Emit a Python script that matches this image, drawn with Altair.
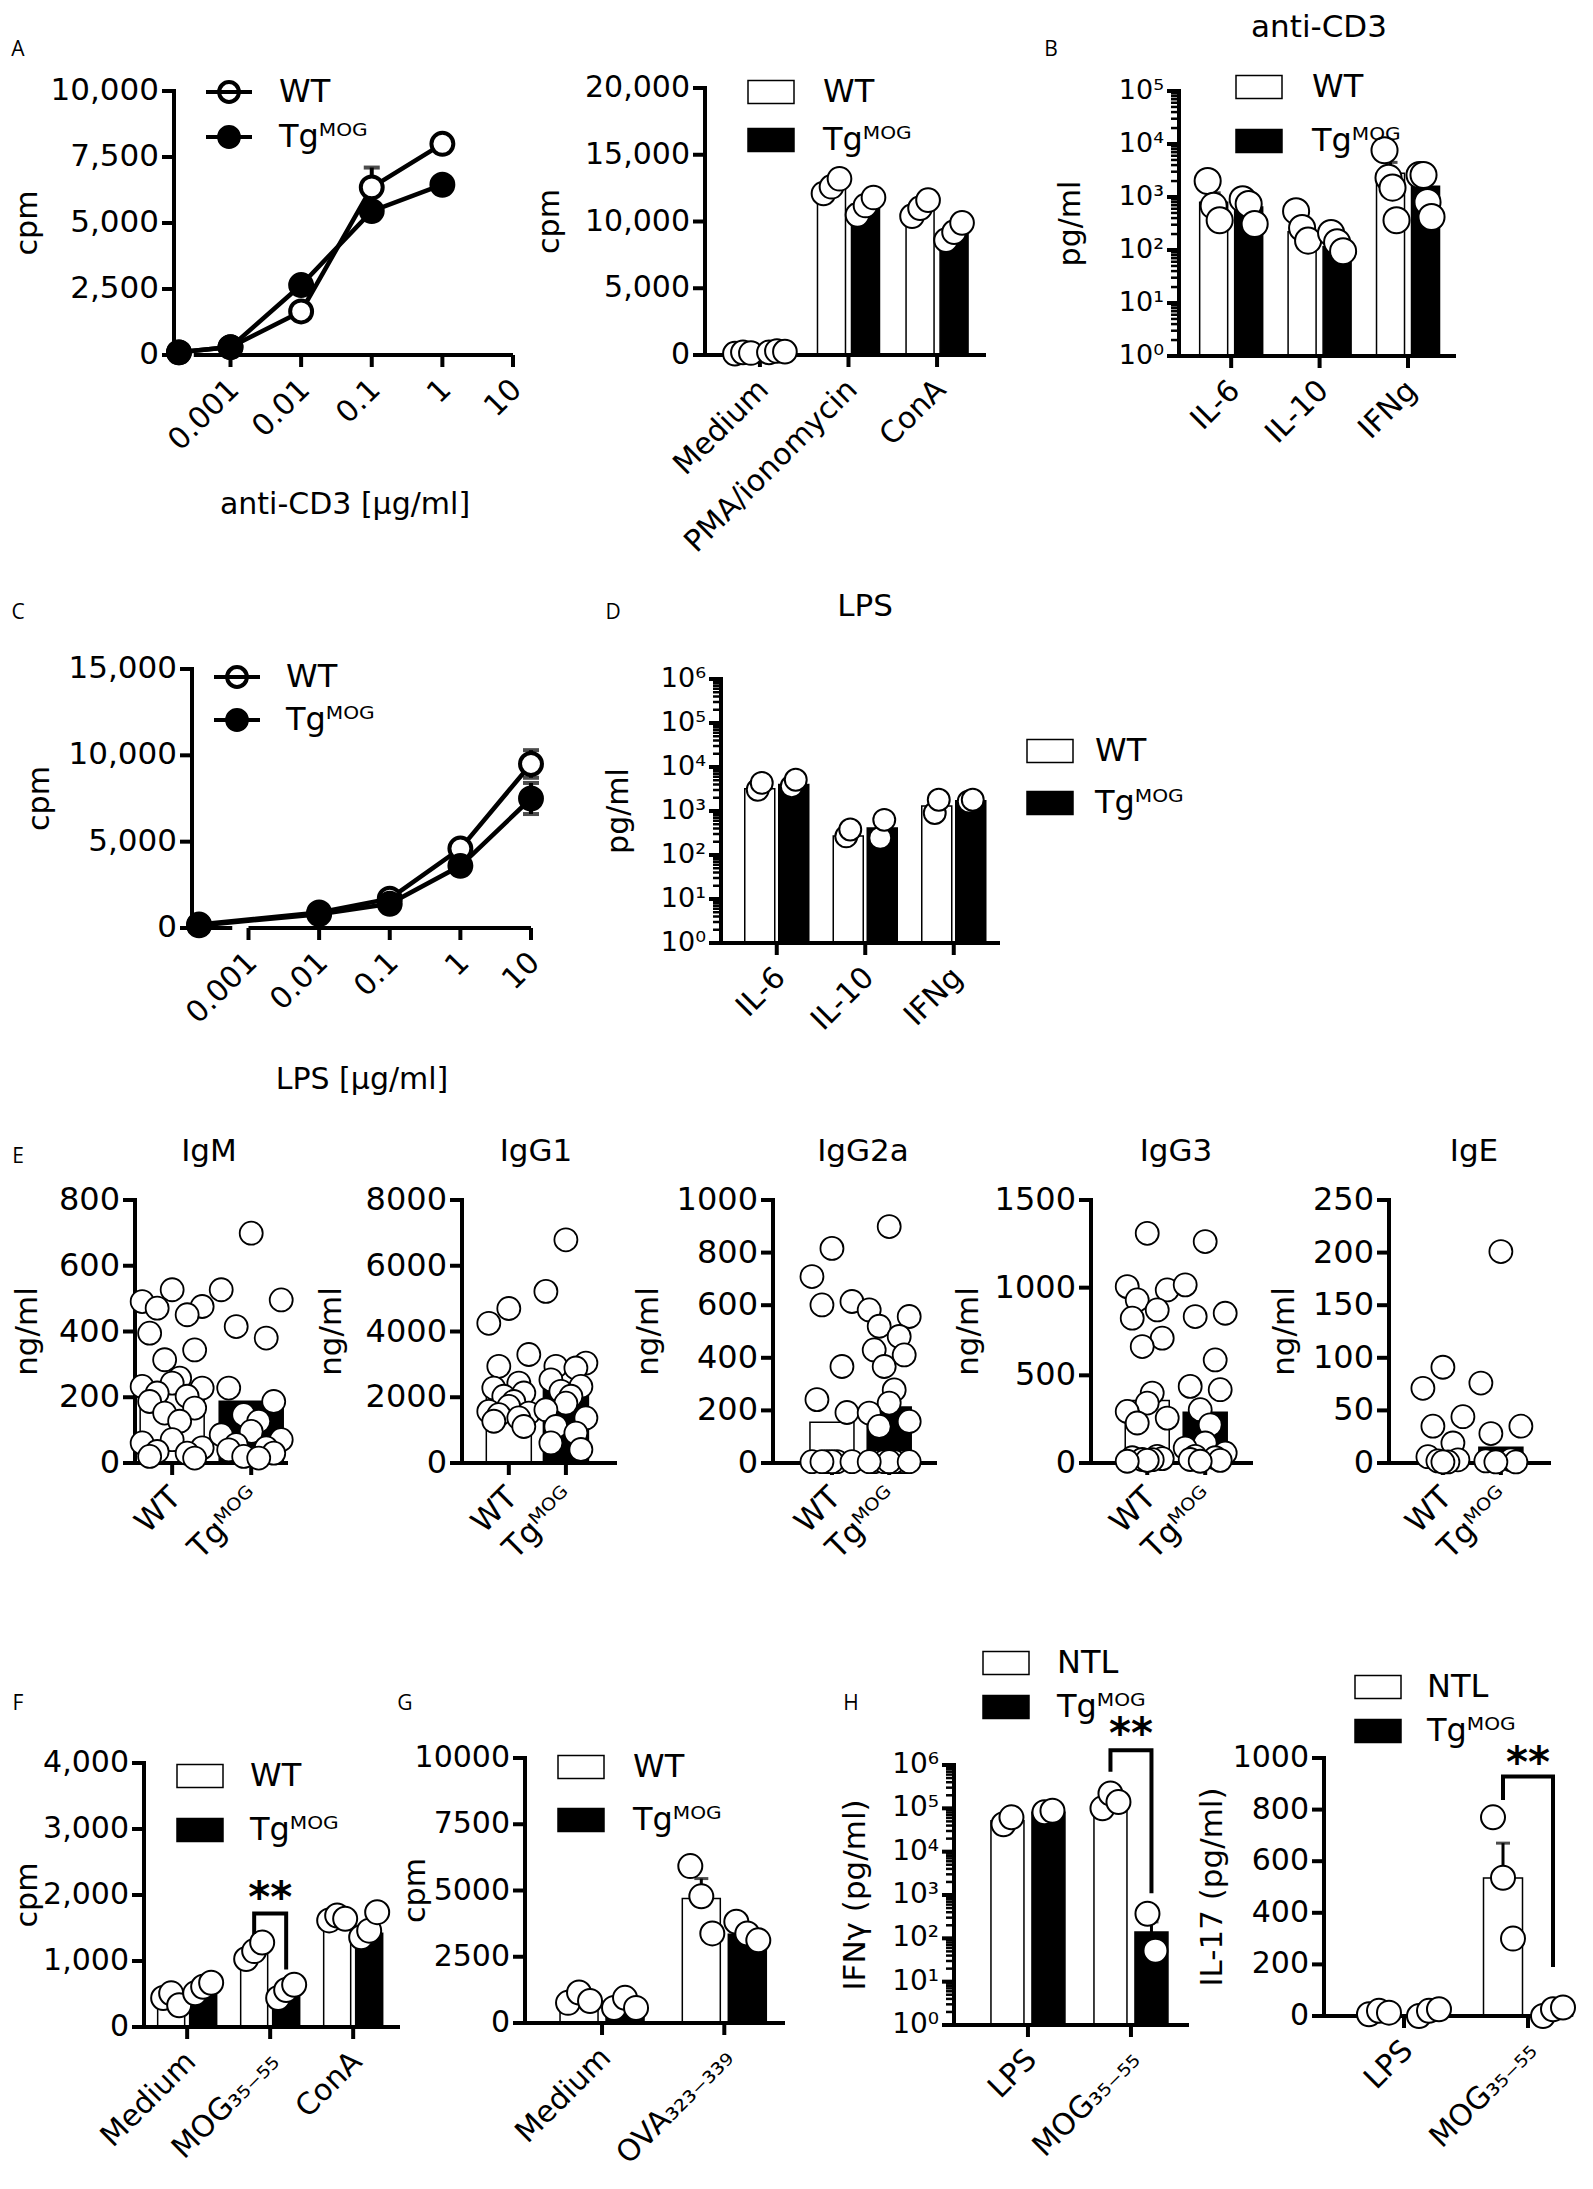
import math
import altair as alt
import pandas as pd

FONT = "DejaVu Sans"
LFONT = "Open Sans"
WT, NTL = "WT", "NTL"
TG = "Tg\u1d39\u1d3c\u1d33"
MOG = "MOG\u2083\u2085\u208b\u2085\u2085"
OVA = "OVA\u2083\u2082\u2083\u208b\u2083\u2083\u2089"

# ---------------- data ----------------
# A (left): anti-CD3 dose response
a1_doses = [0, 0.001, 0.01, 0.1, 1]
a1_wt = [100, 300, 1650, 6350, 8000]
a1_wt_top = [None, None, None, 7100, None]
a1_wt_bot = [None, None, None, None, None]
a1_tg = [100, 300, 2650, 5450, 6450]
a1_tg_top = [None, None, None, None, None]
a1_tg_bot = [None, None, None, None, None]
dose_ticks = [-3, -2, -1, 0, 1]
dose_labels = ["0.001", "0.01", "0.1", "1", "10"]

# A (right)
a2_cats = ["Medium", "PMA/ionomycin", "ConA"]
a2_wt = [150, 12500, 11000]
a2_tg = [250, 11300, 9100]
a2_wt_pts = [[100, 200, 150], [12100, 12600, 13200], [10400, 11000, 11600]]
a2_tg_pts = [[200, 300, 250], [10500, 11200, 11800], [8600, 9200, 9900]]

# B: anti-CD3 cytokines
b_cats = ["IL-6", "IL-10", "IFNg"]
b_wt = [800, 220, 2800]
b_tg = [650, 115, 1600]
b_wt_top = [1200, None, 4500]
b_tg_top = [None, None, 2000]
b_wt_pts = [[2000, 680, 365], [540, 260, 150], [7600, 2300, 1500, 365]]
b_tg_pts = [[910, 740, 310], [210, 140, 95], [2600, 2600, 800, 420]]

# C: LPS dose response
c_doses = [0, 0.01, 0.1, 1, 10]
c_wt = [200, 900, 1700, 4600, 9500]
c_wt_top = [None, None, None, None, 10300]
c_wt_bot = [None, None, None, None, 8700]
c_tg = [150, 800, 1400, 3600, 7500]
c_tg_top = [None, None, None, None, 8400]
c_tg_bot = [None, None, None, None, 6600]

# D: LPS cytokines
d_cats = ["IL-6", "IL-10", "IFNg"]
d_wt = [3200, 270, 1300]
d_tg = [4000, 410, 1700]
d_wt_pts = [[3050, 4350], [265, 380], [900, 1800]]
d_tg_pts = [[3650, 5150], [245, 630], [1650, 1800]]

# E: immunoglobulins (ng/ml)
igm_wt = [527, 491, 476, 471, 451, 395, 344, 314, 258, 243, 233, 228, 213, 203, 187, 167, 152, 127, 71, 61, 46, 35, 30, 20, 15]
igm_tg = [699, 527, 496, 415, 380, 228, 187, 147, 127, 96, 86, 71, 56, 46, 40, 30, 20, 15]
igm_bar = [228, 188]
igg1_wt = [4700, 4250, 3300, 2940, 2430, 2280, 2130, 2030, 1870, 1720, 1570, 1520, 1470, 1370, 1270, 1110]
igg1_tg = [6790, 5220, 3040, 2940, 2890, 2530, 2330, 2180, 2030, 1820, 1620, 1370, 1110, 910, 610, 410]
igg1_bar = [2150, 2250]
igg2a_wt = [816, 709, 614, 601, 367, 241, 192, 5, 5, 5, 5, 5, 5]
igg2a_tg = [899, 582, 557, 520, 481, 430, 411, 367, 278, 228, 190, 158, 139, 5, 5, 5, 5, 5, 5, 5, 5]
igg2a_bar = [155, 213]
igg3_wt = [1310, 1006, 987, 930, 873, 826, 712, 664, 399, 342, 294, 256, 228, 38, 30, 25, 20, 19, 15, 10]
igg3_tg = [1263, 1016, 854, 835, 588, 437, 418, 304, 218, 114, 85, 57, 38, 30, 20, 15, 10]
igg3_bar = [357, 289]
ige_wt = [91, 71, 44, 35, 19, 6, 3, 2, 1, 1]
ige_tg = [201, 76, 35, 28, 3, 2, 1, 1]
ige_bar = [11, 15]

# F: recall proliferation
f_cats = ["Medium", MOG, "ConA"]
f_wt = [400, 1150, 1650]
f_tg = [580, 580, 1420]
f_wt_top = [None, None, None]
f_tg_top = [None, None, 1580]
f_wt_pts = [[440, 510, 330], [1030, 1150, 1280], [1615, 1690, 1640]]
f_tg_pts = [[510, 610, 670], [440, 560, 640], [1360, 1460, 1740]]
f_bracket = [1410, 1718, 1718, 872]
f_star = 2136

# G: OVA recall
g_cats = ["Medium", OVA]
g_wt = [900, 4700]
g_tg = [650, 3350]
g_wt_top = [1000, 5450]
g_tg_top = [780, 3630]
g_wt_pts = [[760, 1150, 830], [5920, 4780, 3380]]
g_tg_pts = [[570, 950, 570], [3820, 3380, 3120]]

# H: IFNγ and IL-17
h_cats = ["LPS", MOG]
h1_wt = [52000, 140000]
h1_tg = [81000, 140]
h1_wt_top = [None, None]
h1_tg_top = [None, 240]
h1_wt_pts = [[43000, 62000], [100000, 220000, 140000]]
h1_tg_pts = [[81000, 88000], [370, 52]]
h1_bracket = [700000, 2200000, 2200000, 1100]
h1_star = 10000000
h2_wt = [15, 535]
h2_tg = [15, 20]
h2_wt_top = [None, 670]
h2_tg_top = [None, None]
h2_wt_pts = [[7, 20, 13], [770, 536, 300]]
h2_tg_pts = [[0, 20, 26], [0, 26, 33]]
h2_bracket = [837, 928, 928, 190]
h2_star = 1027

# ---------------- layout: plot areas in page pixels ----------------
M = 8  # page margin: the single view starts here
GEO = {
    'A1': (174, 91, 339, 264), 'A2': (705, 88, 279, 267), 'B': (1179, 91, 275, 265),
    'C': (192, 669, 339, 259), 'D': (721, 679, 277, 264),
    'IgM': (135, 1200, 151, 263), 'IgG1': (462, 1200, 153, 263), 'IgG2a': (773, 1200, 162, 263),
    'IgG3': (1091, 1200, 160, 263), 'IgE': (1389, 1200, 160, 263),
    'F': (144, 1763, 254, 264), 'G': (525, 1758, 258, 265), 'H1': (954, 1765, 233, 260),
    'H2': (1324, 1758, 236, 258),
}
VIEW_W, VIEW_H = 1560, 2165

RECT = "M-1,-0.5H1V0.5H-1Z"
LINEDOT = "M-1,0H1M0.43,0A0.43,0.43,0,1,1,-0.43,0A0.43,0.43,0,1,1,0.43,0"
SUP = ['\u2070', '\u00b9', '\u00b2', '\u00b3', '\u2074', '\u2075', '\u2076']


def fmt_tick(v, kind):
    if kind == 'log':
        return '10' + SUP[int(round(math.log10(v)))]
    if kind == ',d':
        return f"{int(v):,}"
    return str(int(v))


class Panel:
    def __init__(self, key, xdom, ydom, ylog=False):
        self.key = key
        self.L, self.T, self.W, self.H = GEO[key]
        self.xdom, self.ydom, self.ylog = xdom, ydom, ylog
        xr = [self.L - M, self.L - M + self.W]
        yr = [self.T - M + self.H, self.T - M]
        self.xs = alt.Scale(domain=xdom, range=xr, nice=False, zero=False, padding=0)
        if ylog:
            self.ys = alt.Scale(type='log', domain=ydom, range=yr, nice=False, padding=0)
        else:
            self.ys = alt.Scale(domain=ydom, range=yr, nice=False, zero=False, padding=0)

    def xv(self, ax):
        x0, x1 = self.xdom
        return x0 + (ax - self.L) / self.W * (x1 - x0)

    def xpix(self, v):
        x0, x1 = self.xdom
        return self.L + (v - x0) / (x1 - x0) * self.W

    def yv(self, ay):
        f = (ay - self.T) / self.H
        if self.ylog:
            l0, l1 = math.log10(self.ydom[0]), math.log10(self.ydom[1])
            return 10 ** (l1 - f * (l1 - l0))
        y0, y1 = self.ydom
        return y1 - f * (y1 - y0)

    def X(self, f):
        return alt.X(f + ':Q', scale=self.xs, axis=None)

    def Y(self, f, **kw):
        return alt.Y(f + ':Q', scale=self.ys, axis=None, **kw)

    def text(self, txt, ax, ay, size, font=FONT, baseline='middle', weight='normal', dy=0, angle=0):
        df = pd.DataFrame({'x': [self.xv(ax)], 'y': [self.yv(ay)], 't': [txt]})
        return alt.Chart(df).mark_text(font=font, fontSize=size, baseline=baseline, align='center',
                                       fontWeight=weight, color='black', dy=dy, angle=angle).encode(
            x=self.X('x'), y=self.Y('y'), text='t:N')

    def legend(self, lx, ly, rowpad, shape=RECT, sw=1.5, fs=32, offset=26):
        return alt.Legend(orient='none', legendX=self.L + lx - M, legendY=self.T + ly - 7 - M,
                          direction='vertical', title=None, symbolType=shape, symbolSize=2116,
                          symbolStrokeColor='black', symbolStrokeWidth=sw, labelFont=FONT, labelFontSize=fs,
                          labelColor='black', labelOffset=offset, rowPadding=rowpad, padding=0, labelLimit=400)

    def minor(self):
        lo = int(round(math.log10(self.ydom[0])))
        hi = int(round(math.log10(self.ydom[1])))
        vals = [m * 10 ** k for k in range(lo, hi) for m in range(2, 10)]
        df = pd.DataFrame({'v': vals, 'xa': [self.xv(self.L - 8)] * len(vals), 'xb': [self.xdom[0]] * len(vals)})
        return alt.Chart(df).mark_rule(color='black', strokeWidth=2.5).encode(
            x=self.X('xa'), x2='xb:Q', y=self.Y('v'))

    def axes(self, yticks, ykind, ytitle, ytitle_x, xticks, xlabels, ylab=30, xlab=30, ytit=30,
             xsegs=None, xtitle=None, xtitle_c=None, xlab_dx=4, xlab_dy=30):
        x0, x1 = self.xdom
        y0, y1 = self.ydom
        out = []
        ydf = pd.DataFrame({'x': [x0], 'a': [y0], 'b': [y1]})
        out.append(alt.Chart(ydf).mark_rule(color='black', strokeWidth=4, strokeCap='square').encode(
            x=self.X('x'), y=self.Y('a'), y2='b:Q'))
        segs = xsegs if xsegs else [(x0, x1)]
        xdf = pd.DataFrame({'y': [y0] * len(segs), 'a': [s[0] for s in segs], 'b': [s[1] for s in segs]})
        out.append(alt.Chart(xdf).mark_rule(color='black', strokeWidth=4,
                                            strokeCap='butt' if xsegs else 'square').encode(
            y=self.Y('y'), x=self.X('a'), x2='b:Q'))
        n = len(yticks)
        ytdf = pd.DataFrame({'v': yticks, 'a': [self.xv(self.L - 12)] * n, 'b': [x0] * n,
                             'lx': [self.xv(self.L - 15)] * n, 'lab': [fmt_tick(v, ykind) for v in yticks]})
        out.append(alt.Chart(ytdf).mark_rule(color='black', strokeWidth=4).encode(
            x=self.X('a'), x2='b:Q', y=self.Y('v')))
        out.append(alt.Chart(ytdf).mark_text(font=FONT, fontSize=ylab, align='right', baseline='middle',
                                             color='black').encode(x=self.X('lx'), y=self.Y('v'), text='lab:N'))
        m = len(xticks)
        xtdf = pd.DataFrame({'p': xticks, 'a': [y0] * m, 'b': [self.yv(self.T + self.H + 12)] * m,
                             'lp': [self.xv(self.xpix(t) + xlab_dx) for t in xticks],
                             'ly': [self.yv(self.T + self.H + xlab_dy)] * m, 'lab': xlabels})
        out.append(alt.Chart(xtdf).mark_rule(color='black', strokeWidth=4).encode(
            x=self.X('p'), y=self.Y('a'), y2='b:Q'))
        out.append(alt.Chart(xtdf).mark_text(font=FONT, fontSize=xlab, align='right', baseline='middle',
                                             angle=315, color='black').encode(
            x=self.X('lp'), y=self.Y('ly'), text='lab:N'))
        out.append(self.text(ytitle, ytitle_x, self.T + self.H / 2, ytit, angle=270))
        if xtitle:
            out.append(self.text(xtitle, xtitle_c[0], xtitle_c[1], 30))
        return out


def jit(n, k):
    pats = {1: [0], 2: [-0.5, 0.5], 3: [-1, 0, 1], 4: [-1, -1 / 3, 1 / 3, 1]}
    if n in pats:
        return pats[n][k]
    cyc = [0, -1, 1, -0.5, 0.5, -0.75, 0.75, -0.25, 0.25]
    return cyc[k % len(cyc)]


def bar_panel(key, cats, glabels, means, tops, pts, xdom, off_px, barw, psize, jit_px,
              ydom, yspec, ylog=False, leg=None, xlab=30, bracket=None, texts=()):
    p = Panel(key, xdom, ydom, ylog)
    u = p.W / (xdom[1] - xdom[0])
    off = off_px / u
    signs = [-1, 1]
    brows, prows, erows = [], [], []
    for gi, gl in enumerate(glabels):
        for ci in range(len(cats)):
            pos = ci + signs[gi] * off
            brows.append(dict(pos=pos, val=means[gi][ci], grp=gl, base=ydom[0]))
            if tops[gi][ci] is not None:
                erows.append(dict(pos=pos, lo=means[gi][ci], hi=tops[gi][ci]))
            vals = pts[gi][ci]
            for k, v in enumerate(vals):
                prows.append(dict(pos=pos + jit(len(vals), k) * jit_px / u, val=v))
    yt, kind, ytitle, ytx = yspec[:4]
    ylab = yspec[4] if len(yspec) > 4 else 30
    ytit = yspec[5] if len(yspec) > 5 else 30
    legend = p.legend(*leg[:3], **(leg[3] if len(leg) > 3 else {})) if leg else None
    enc = dict(x=p.X('pos'), y=p.Y('val', stack=None),
               fill=alt.Fill('grp:N', scale=alt.Scale(domain=glabels, range=['white', 'black']), legend=legend))
    if ylog:
        enc['y2'] = alt.Y2('base:Q')
    layers = [alt.Chart(pd.DataFrame(brows)).mark_bar(size=barw, stroke='black', strokeWidth=1.5).encode(**enc)]
    layers += p.axes(yt, kind, ytitle, ytx, list(range(len(cats))), cats, ylab=ylab, xlab=xlab, ytit=ytit)
    if ylog:
        layers.append(p.minor())
    if erows:
        edf = pd.DataFrame(erows)
        layers.append(alt.Chart(edf).mark_rule(color='black', strokeWidth=3).encode(
            x=p.X('pos'), y=p.Y('lo'), y2='hi:Q'))
        layers.append(alt.Chart(edf).mark_tick(orient='horizontal', size=14, thickness=3, color='black').encode(
            x=p.X('pos'), y=p.Y('hi')))
    layers.append(alt.Chart(pd.DataFrame(prows)).mark_point(
        shape='circle', filled=True, fill='white', stroke='black', strokeWidth=2, size=psize, opacity=1
    ).encode(x=p.X('pos'), y=p.Y('val')))
    if bracket is not None:
        ci, yv, sy = bracket
        bdf = pd.DataFrame({'pos': [ci - off, ci - off, ci + off, ci + off], 'val': yv, 'o': [0, 1, 2, 3]})
        layers.append(alt.Chart(bdf).mark_line(color='black', strokeWidth=4, strokeCap='butt').encode(
            x=p.X('pos'), y=p.Y('val'), order='o:Q'))
        sdf = pd.DataFrame({'pos': [ci], 'val': [sy], 't': ['**']})
        layers.append(alt.Chart(sdf).mark_text(font=FONT, fontSize=42, fontWeight='bold', dy=13, color='black').encode(
            x=p.X('pos'), y=p.Y('val'), text='t:N'))
    for t in texts:
        layers.append(p.text(*t[:4], **(t[4] if len(t) > 4 else {})))
    return layers


def line_panel(key, doses, zero_pos, series, seg, ydom, yvals, ytitle_x, xtitle, xtitle_c, leg, texts=()):
    p = Panel(key, [-3.8, 1.0], ydom)
    rows, erows = [], []
    for lab, vals, top, bot in series:
        for d, v, t, b in zip(doses, vals, top, bot):
            pos = zero_pos if d == 0 else math.log10(d)
            rows.append(dict(pos=pos, val=v, grp=lab))
            if t is not None or b is not None:
                erows.append(dict(pos=pos, lo=b if b is not None else v, hi=t if t is not None else v))
    df = pd.DataFrame(rows)
    layers = p.axes(yvals, ',d', 'cpm', ytitle_x, dose_ticks, dose_labels, ylab=31, xlab=30,
                    xsegs=seg, xtitle=xtitle, xtitle_c=xtitle_c)
    layers.append(alt.Chart(df).mark_line(color='black', strokeWidth=4.5).encode(
        x=p.X('pos'), y=p.Y('val'), detail='grp:N', order='pos:Q'))
    if erows:
        edf = pd.DataFrame(erows)
        layers.append(alt.Chart(edf).mark_rule(color='black', strokeWidth=4).encode(
            x=p.X('pos'), y=p.Y('lo'), y2='hi:Q'))
        for f in ['lo', 'hi']:
            layers.append(alt.Chart(edf).mark_tick(orient='horizontal', size=16, thickness=4, color='black').encode(
                x=p.X('pos'), y=p.Y(f)))
    legend = p.legend(leg[0], leg[1], leg[2], shape=LINEDOT, sw=4, offset=leg[3])
    layers.append(alt.Chart(df).mark_point(shape='circle', filled=True, stroke='black', strokeWidth=4,
                                           size=480, opacity=1).encode(
        x=p.X('pos'), y=p.Y('val'),
        fill=alt.Fill('grp:N', scale=alt.Scale(domain=[WT, TG], range=['white', 'black']), legend=legend)))
    for t in texts:
        layers.append(p.text(*t[:4], **(t[4] if len(t) > 4 else {})))
    return layers


def e_panel(key, title, title_x, wt_pts, tg_pts, bars, ydom, yvals, ytitle_x, xdom, barw, jit_px):
    p = Panel(key, xdom, ydom)
    u = p.W / (xdom[1] - xdom[0])
    bdf = pd.DataFrame({'pos': [0, 1], 'val': bars, 'grp': [WT, TG]})
    prows = []
    for gi, vals in enumerate([wt_pts, tg_pts]):
        for k, v in enumerate(vals):
            prows.append(dict(pos=gi + jit(len(vals), k) * jit_px / u, val=v))
    layers = [
        alt.Chart(bdf).mark_bar(size=barw, stroke='black', strokeWidth=1.5).encode(
            x=p.X('pos'), y=p.Y('val', stack=None),
            fill=alt.Fill('grp:N', scale=alt.Scale(domain=[WT, TG], range=['white', 'black']), legend=None)),
    ]
    layers += p.axes(yvals, 'd', 'ng/ml', ytitle_x, [0, 1], [WT, TG], ylab=32, xlab=31, ytit=31)
    layers += [
        alt.Chart(pd.DataFrame(prows)).mark_point(shape='circle', filled=True, fill='white', stroke='black',
                                                  strokeWidth=1.8, size=529, opacity=1).encode(
            x=p.X('pos'), y=p.Y('val')),
        p.text(title, title_x, 1152, 31),
    ]
    if key == 'IgM':
        layers.append(p.text('E', 18, 1157, 21, font=LFONT))
    return layers


# ---------------- panels ----------------
layers = []
layers += line_panel('A1', a1_doses, -3.73,
                     [(WT, a1_wt, a1_wt_top, a1_wt_bot), (TG, a1_tg, a1_tg_top, a1_tg_bot)],
                     [(-3.8, -3.62), (-3.52, 1.0)], [0, 10000], [0, 2500, 5000, 7500, 10000], 28,
                     'anti-CD3 [\u03bcg/ml]', (345, 505), (30, -17, 2, 25),
                     texts=[('A', 18, 50, 21, {'font': LFONT})])

layers += bar_panel('A2', a2_cats, [WT, TG], [a2_wt, a2_tg], [[None] * 3, [None] * 3], [a2_wt_pts, a2_tg_pts],
                    [-0.62, 2.53], 17, 28, 560, 8, [0, 20000],
                    ([0, 5000, 10000, 15000, 20000], ',d', 'cpm', 550, 30),
                    leg=(42, -13, 8, {'offset': 28}))

layers += bar_panel('B', b_cats, [WT, TG], [b_wt, b_tg], [b_wt_top, b_tg_top], [b_wt_pts, b_tg_pts],
                    [-0.59, 2.52], 17.5, 28, 680, 6, [1, 100000],
                    ([1, 10, 100, 1000, 10000, 100000], 'log', 'pg/ml', 1071, 27, 30),
                    ylog=True, leg=(56, -21, 14, {'offset': 29}),
                    texts=[('B', 1051, 50, 21, {'font': LFONT}), ('anti-CD3', 1319, 13, 31, {'baseline': 'top'})])

layers += line_panel('C', c_doses, -3.70,
                     [(WT, c_wt, c_wt_top, c_wt_bot), (TG, c_tg, c_tg_top, c_tg_bot)],
                     [(-3.8, -3.23), (-3.0, 1.0)], [0, 15000], [0, 5000, 10000, 15000], 40,
                     'LPS [\u03bcg/ml]', (362, 1080), (20, -10, 0, 24),
                     texts=[('C', 18, 613, 21, {'font': LFONT})])

layers += bar_panel('D', d_cats, [WT, TG], [d_wt, d_tg], [[None] * 3, [None] * 3], [d_wt_pts, d_tg_pts],
                    [-0.63, 2.5], 17, 30, 480, 4, [1, 1000000],
                    ([1, 10, 100, 1000, 10000, 100000, 1000000], 'log', 'pg/ml', 619, 27, 30),
                    ylog=True, leg=(305, 55, 12, {'offset': 21}),
                    texts=[('D', 613, 613, 21, {'font': LFONT}), ('LPS', 865, 607, 31)])

layers += e_panel('IgM', 'IgM', 209, igm_wt, igm_tg, igm_bar, [0, 800], [0, 200, 400, 600, 800], 28,
                  [-0.47, 1.44], 64, 30)
layers += e_panel('IgG1', 'IgG1', 536, igg1_wt, igg1_tg, igg1_bar, [0, 8000], [0, 2000, 4000, 6000, 8000], 332,
                  [-0.82, 1.86], 45, 20)
layers += e_panel('IgG2a', 'IgG2a', 863, igg2a_wt, igg2a_tg, igg2a_bar, [0, 1000], [0, 200, 400, 600, 800, 1000], 649,
                  [-1.03, 1.8], 44, 20)
layers += e_panel('IgG3', 'IgG3', 1176, igg3_wt, igg3_tg, igg3_bar, [0, 1500], [0, 500, 1000, 1500], 969,
                  [-0.97, 1.79], 44, 20)
layers += e_panel('IgE', 'IgE', 1474, ige_wt, ige_tg, ige_bar, [0, 250], [0, 50, 100, 150, 200, 250], 1285,
                  [-0.93, 1.83], 44, 20)

layers += bar_panel('F', f_cats, [WT, TG], [f_wt, f_tg], [f_wt_top, f_tg_top], [f_wt_pts, f_tg_pts],
                    [-0.52, 2.54], 16, 27, 576, 8, [0, 4000],
                    ([0, 1000, 2000, 3000, 4000], ',d', 'cpm', 28, 30),
                    leg=(32, -4, 14, {'offset': 26}), bracket=(1, f_bracket, f_star),
                    texts=[('F', 18, 1704, 21, {'font': LFONT})])

layers += bar_panel('G', g_cats, [WT, TG], [g_wt, g_tg], [g_wt_top, g_tg_top], [g_wt_pts, g_tg_pts],
                    [-0.63, 1.48], 23, 38, 576, 11, [0, 10000],
                    ([0, 2500, 5000, 7500, 10000], 'd', 'cpm', 416, 30),
                    leg=(32, -8, 13, {'offset': 28}),
                    texts=[('G', 405, 1704, 21, {'font': LFONT})])

layers += bar_panel('H1', h_cats, [NTL, TG], [h1_wt, h1_tg], [h1_wt_top, h1_tg_top], [h1_wt_pts, h1_tg_pts],
                    [-0.718, 1.544], 20.5, 33, 576, 8, [1, 1000000],
                    ([1, 10, 100, 1000, 10000, 100000, 1000000], 'log', 'IFN\u03b3 (pg/ml)', 856, 28, 31),
                    ylog=True, leg=(28, -119, 4, {'offset': 27}), bracket=(1, h1_bracket, h1_star),
                    texts=[('H', 851, 1704, 21, {'font': LFONT})])

layers += bar_panel('H2', h_cats, [NTL, TG], [h2_wt, h2_tg], [h2_wt_top, h2_tg_top], [h2_wt_pts, h2_tg_pts],
                    [-0.645, 1.258], 25, 39, 576, 10, [0, 1000],
                    ([0, 200, 400, 600, 800, 1000], 'd', 'IL-17 (pg/ml)', 1213, 30, 31),
                    leg=(30, -88, 4, {'offset': 25}), bracket=(1, h2_bracket, h2_star))

chart = alt.layer(*layers).resolve_scale(
    x='independent', y='independent', fill='independent'
).resolve_legend(fill='independent').properties(
    width=VIEW_W, height=VIEW_H, padding=0
).configure_view(stroke='transparent')

chart.save("out.html", embed_options={"renderer": "svg", "actions": False})
